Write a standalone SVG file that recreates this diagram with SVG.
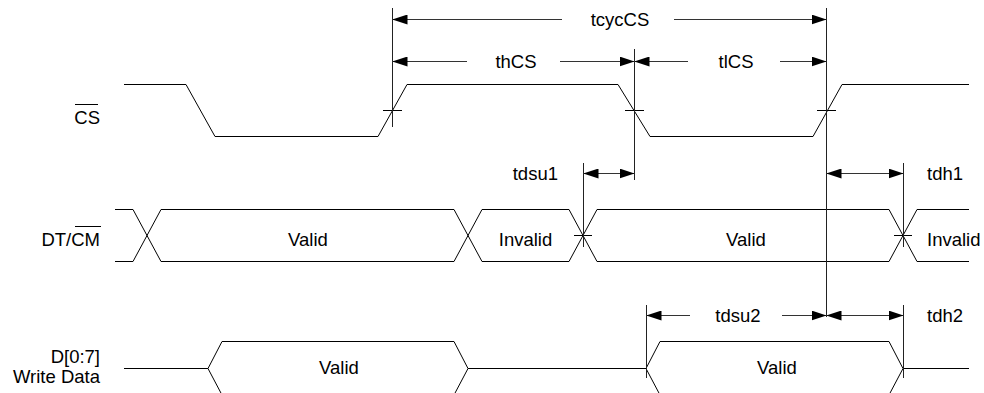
<svg xmlns="http://www.w3.org/2000/svg" width="984" height="393" viewBox="0 0 984 393">
<style>
  .w { fill: none; stroke: #000; stroke-width: 1; }
  .v { fill: none; stroke: #222; stroke-width: 1; }
  .ae { fill: none; stroke: #333; stroke-width: 1; marker-end: url(#ah); }
  .as { fill: none; stroke: #333; stroke-width: 1; marker-start: url(#ah); }
  .ab { fill: none; stroke: #333; stroke-width: 1; marker-start: url(#ah); marker-end: url(#ah); }
  text { font-family: "Liberation Sans", Arial, sans-serif; font-size: 18.5px; fill: #000; }
  .e { text-anchor: end; }
  .m { text-anchor: middle; }
</style>
<defs>
  <marker id="ah" markerUnits="userSpaceOnUse" markerWidth="15" markerHeight="10" refX="15" refY="5" orient="auto-start-reverse">
    <path d="M0,0 L15,5 L0,10 z" fill="#000"/>
  </marker>
</defs>
<rect width="984" height="393" fill="#fff"/>

<g id="sig-cs">
  <text class="e" x="100" y="124">CS</text>
  <line class="w" x1="75" y1="104.5" x2="98" y2="104.5"/>
  <path class="w" d="M124,84.5 H186 L215,136.5 H378 L407,84.5 H618 L650,136.5 H813 L842,84.5 H969"/>
  <path class="w" d="M383,110.5 H402 M625,110.5 H644 M817,110.5 H836"/>
</g>

<g id="sig-dtcm">
  <text class="e" x="100" y="246">DT/CM</text>
  <line class="w" x1="75" y1="226.5" x2="101" y2="226.5"/>
  <path class="w" d="M115,209.5 H133 L161,261.5 H454 L482,209.5 H569 L597,261.5 H889 L917,209.5 H969"/>
  <path class="w" d="M115,261.5 H133 L161,209.5 H454 L482,261.5 H569 L597,209.5 H889 L917,261.5 H969"/>
  <path class="w" d="M574,235.5 H592 M894,235.5 H912"/>
  <text class="m" x="308" y="246">Valid</text>
  <text class="m" x="525.5" y="246">Invalid</text>
  <text class="m" x="746" y="246">Valid</text>
  <text x="927" y="246">Invalid</text>
</g>

<g id="sig-data">
  <text class="e" x="100" y="363">D[0:7]</text>
  <text class="e" x="100" y="383">Write Data</text>
  <path class="w" d="M124,368.5 H208 L222,341.5 H454 L468,368.5 H646 L660,341.5 H889 L903,368.5 H969"/>
  <path class="w" d="M208,368.5 L222,395 H454 L468,368.5 M646,368.5 L660,395 H889 L903,368.5"/>
  <text class="m" x="339" y="374">Valid</text>
  <text class="m" x="777" y="374">Valid</text>
</g>

<g id="connectors">
  <line class="v" x1="392.5" y1="8" x2="392.5" y2="127"/>
  <line class="v" x1="634.5" y1="49" x2="634.5" y2="180"/>
  <line class="v" x1="826.5" y1="8" x2="826.5" y2="317"/>
  <line class="v" x1="583.5" y1="163" x2="583.5" y2="247"/>
  <line class="v" x1="903.5" y1="163" x2="903.5" y2="247"/>
  <line class="v" x1="646.5" y1="305" x2="646.5" y2="378"/>
  <line class="v" x1="903.5" y1="305" x2="903.5" y2="378"/>

  <line class="as" x1="392.5" y1="19.5" x2="562" y2="19.5"/>
  <line class="ae" x1="674" y1="19.5" x2="826.5" y2="19.5"/>
  <text class="m" x="620" y="26">tcycCS</text>

  <line class="as" x1="392.5" y1="61.5" x2="467" y2="61.5"/>
  <line class="ae" x1="560" y1="61.5" x2="634.5" y2="61.5"/>
  <text class="m" x="516" y="68">thCS</text>

  <line class="as" x1="634.5" y1="61.5" x2="688" y2="61.5"/>
  <line class="ae" x1="780" y1="61.5" x2="826.5" y2="61.5"/>
  <text class="m" x="736" y="68">tlCS</text>

  <line class="ab" x1="583.5" y1="173.5" x2="634.5" y2="173.5"/>
  <text class="e" x="558" y="180">tdsu1</text>

  <line class="ab" x1="826.5" y1="173.5" x2="903.5" y2="173.5"/>
  <text x="927" y="180">tdh1</text>

  <line class="as" x1="646.5" y1="315.5" x2="690" y2="315.5"/>
  <line class="ae" x1="782" y1="315.5" x2="826.5" y2="315.5"/>
  <text class="m" x="738" y="322">tdsu2</text>

  <line class="ab" x1="826.5" y1="315.5" x2="903.5" y2="315.5"/>
  <text x="927" y="322">tdh2</text>
</g>
</svg>
